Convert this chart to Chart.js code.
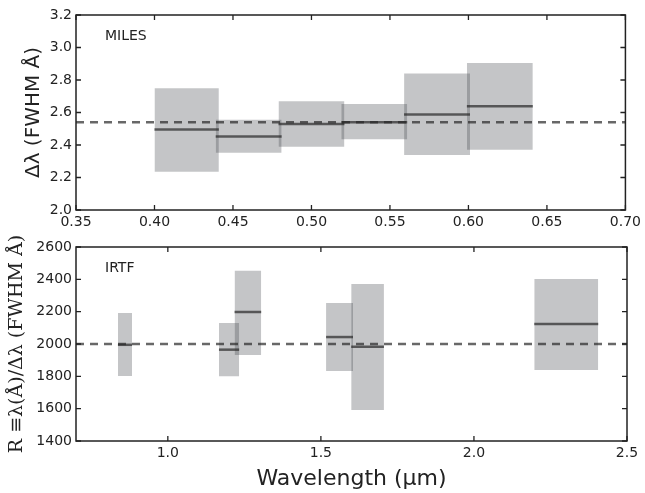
<!DOCTYPE html>
<html>
<head>
<meta charset="utf-8">
<script src="https://cdn.jsdelivr.net/npm/chart.js@4"></script>
<style>
body{margin:0;background:#fff;}
.panel{position:relative;width:645px;}
</style>
</head>
<body>
<div class="panel" style="height:232px"><canvas id="top"></canvas></div>
<div class="panel" style="height:261px"><canvas id="bottom"></canvas></div>
<script>
// MILES panel: wavelength bins (um) and resolution spread
const milesX0=[0.400,0.439,0.479,0.519,0.559,0.599];
const milesX1=[0.441,0.481,0.521,0.561,0.601,0.641];
const milesLo=[2.236,2.353,2.39,2.435,2.339,2.371];
const milesHi=[2.75,2.555,2.67,2.653,2.84,2.905];
const milesMed=[2.496,2.453,2.53,2.54,2.588,2.638];
const milesMean=2.54;
const milesXTicks=[0.35,0.40,0.45,0.50,0.55,0.60,0.65,0.70];
const milesYTicks=[2.0,2.2,2.4,2.6,2.8,3.0,3.2];

// IRTF panel
const irtfX0=[0.837,1.167,1.218,1.517,1.599,2.197];
const irtfX1=[0.883,1.233,1.305,1.605,1.706,2.406];
const irtfLo=[1802,1800,1932,1833,1592,1839];
const irtfHi=[2192,2130,2453,2254,2371,2402];
const irtfMed=[1995,1965,2198,2043,1983,2124];
const irtfMean=2000;
const irtfXTicks=[1.0,1.5,2.0,2.5];
const irtfYTicks=[1400,1600,1800,2000,2200,2400,2600];

const boxFill='rgba(60,62,68,0.3)';
const lineCol='rgba(40,40,40,0.7)';

function buildSets(x0,x1,lo,hi,med,mean,xmin,xmax){
  const sets=[];
  for(let i=0;i<x0.length;i++){
    const topIdx=sets.length;
    sets.push({data:[{x:x0[i],y:hi[i]},{x:x1[i],y:hi[i]}],borderWidth:0,pointRadius:0,fill:false,order:2});
    sets.push({data:[{x:x0[i],y:lo[i]},{x:x1[i],y:lo[i]}],borderWidth:0,pointRadius:0,fill:topIdx,backgroundColor:boxFill,order:2});
  }
  for(let i=0;i<x0.length;i++){
    sets.push({data:[{x:x0[i],y:med[i]},{x:x1[i],y:med[i]}],borderColor:lineCol,borderWidth:2.5,pointRadius:0,order:1});
  }
  sets.push({data:[{x:xmin,y:mean},{x:xmax,y:mean}],borderColor:lineCol,borderWidth:2.5,borderDash:[8,6],pointRadius:0,order:0});
  return sets;
}

// frame + inward ticks like the original figure
const frameTicks={
  id:'frameTicks',
  afterDraw(chart,args,opts){
    const ctx=chart.ctx, a=chart.chartArea;
    const xs=chart.scales.x, ys=chart.scales.y;
    ctx.save();
    ctx.strokeStyle='#222';
    ctx.lineWidth=1.3;
    ctx.beginPath();
    xs.ticks.forEach(t=>{
      const px=xs.getPixelForValue(t.value);
      ctx.moveTo(px,a.top);ctx.lineTo(px,a.top+5);
      ctx.moveTo(px,a.bottom);ctx.lineTo(px,a.bottom-5);
    });
    ys.ticks.forEach(t=>{
      const py=ys.getPixelForValue(t.value);
      ctx.moveTo(a.left,py);ctx.lineTo(a.left+5,py);
      ctx.moveTo(a.right,py);ctx.lineTo(a.right-5,py);
    });
    ctx.stroke();
    ctx.lineWidth=1.5;
    ctx.strokeRect(a.left,a.top,a.right-a.left,a.bottom-a.top);
    ctx.fillStyle='#222';
    ctx.font='14px "DejaVu Sans"';
    ctx.textBaseline='middle';
    ctx.fillText(opts.label,a.left+29,a.top+21);
    ctx.restore();
  }
};

function makeChart(id,cfg){
  return new Chart(document.getElementById(id),{
    type:'scatter',
    data:{datasets:buildSets(cfg.x0,cfg.x1,cfg.lo,cfg.hi,cfg.med,cfg.mean,cfg.xmin,cfg.xmax)},
    options:{
      responsive:true,maintainAspectRatio:false,animation:false,
      showLine:true,
      layout:{padding:{top:15,right:18,left:0,bottom:0}},
      plugins:{legend:{display:false},tooltip:{enabled:false},frameTicks:{label:cfg.label}},
      scales:{
        x:{type:'linear',min:cfg.xmin,max:cfg.xmax,
          grid:{display:false,drawTicks:false},
          border:{display:false},
          afterBuildTicks:s=>{s.ticks=cfg.xTicks.map(v=>({value:v}));},
          afterFit:s=>{s.height=cfg.xHeight;},
          ticks:{padding:4,color:'#222',font:{family:'DejaVu Sans',size:14},maxRotation:0,
            callback:v=>v.toFixed(cfg.xDec)},
          title:cfg.xTitle?{display:true,text:cfg.xTitle,color:'#222',font:{family:'DejaVu Sans',size:22},padding:{top:0,bottom:1}}:{display:false}
        },
        y:{min:cfg.ymin,max:cfg.ymax,
          grid:{display:false,drawTicks:false},
          border:{display:false},
          afterBuildTicks:s=>{s.ticks=cfg.yTicks.map(v=>({value:v}));},
          afterFit:s=>{s.width=76;},
          ticks:{padding:4,color:'#222',font:{family:'DejaVu Sans',size:14},
            callback:v=>v.toFixed(cfg.yDec)},
          title:{display:true,text:cfg.yTitle,color:'#222',font:cfg.yFont,padding:{top:cfg.yTitlePad,bottom:0}}
        }
      }
    },
    plugins:[frameTicks]
  });
}

makeChart('top',{x0:milesX0,x1:milesX1,lo:milesLo,hi:milesHi,med:milesMed,mean:milesMean,
  xmin:0.35,xmax:0.70,ymin:2.0,ymax:3.2,xTicks:milesXTicks,yTicks:milesYTicks,xDec:2,yDec:1,
  xHeight:22,label:'MILES',yTitle:'\u0394\u03bb (FWHM \u00c5)',
  yFont:{family:'DejaVu Sans',size:20},yTitlePad:22});

makeChart('bottom',{x0:irtfX0,x1:irtfX1,lo:irtfLo,hi:irtfHi,med:irtfMed,mean:irtfMean,
  xmin:0.7,xmax:2.5,ymin:1400,ymax:2600,xTicks:irtfXTicks,yTicks:irtfYTicks,xDec:1,yDec:0,
  xHeight:52,label:'IRTF',xTitle:'Wavelength (\u03bcm)',
  yTitle:'R \u2261\u03bb(\u00c5)/\u0394\u03bb (FWHM \u00c5)',
  yFont:{family:'DejaVu Serif',size:19},yTitlePad:6});
</script>
</body>
</html>
